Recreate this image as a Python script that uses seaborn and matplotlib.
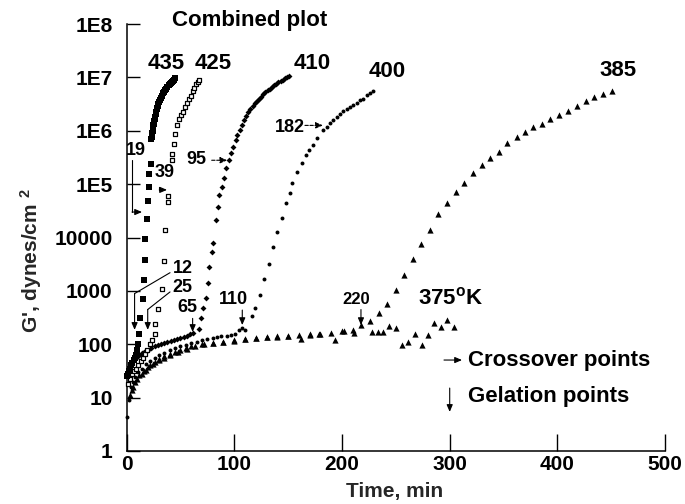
import matplotlib
matplotlib.use("Agg")
import matplotlib.pyplot as plt
import seaborn as sns
import pandas as pd
from matplotlib.ticker import NullLocator

# ---------------- data (time in min, G' in dynes/cm^2) ----------------
t435 = [0.5, 1.5, 2.5, 3.5, 4.5, 5.5, 6.5, 7.5, 8.5, 9.5, 10.5, 11.6, 12.5, 15.3, 16.2, 17.2, 17.2, 19.0, 20.0, 20.9, 20.9, 22.7,
        23.2, 23.5, 23.8, 24, 24.3, 24.5, 24.8, 25, 25.3, 25.5, 25.8, 26, 26.5, 27, 27.5, 28, 28.5, 29, 29.5, 30, 31, 32, 33, 34, 35,
        36, 37, 38, 39, 40, 41, 42, 43, 44, 45]
g435 = [25, 28, 32, 35, 40, 45, 50, 56, 63, 79, 100, 158, 316, 708, 1580, 3800, 9550, 22400, 49000, 89000, 158000, 240000,
        7.1e5, 7.8e5, 8.5e5, 9.2e5, 1.0e6, 1.08e6, 1.17e6, 1.26e6, 1.35e6, 1.45e6, 1.55e6, 1.66e6, 1.78e6, 2.04e6, 2.25e6, 2.51e6,
        2.7e6, 2.95e6, 3.16e6, 3.39e6, 3.8e6, 4.17e6, 4.57e6, 5.01e6, 5.37e6, 5.75e6, 6.17e6, 6.61e6, 7.08e6, 7.41e6, 7.76e6,
        8.13e6, 8.51e6, 8.91e6, 9.55e6]

t425 = [1, 3, 5, 7, 9, 11, 13, 15, 17, 19, 21.5, 24, 26, 26.5, 29, 33, 34.4, 35.7, 38.5, 38.5, 42.2, 42.2, 44.1, 45, 47, 49, 51,
        52.7, 54.3, 56, 58, 60, 61.5, 63, 64.5, 66, 67.3]
g425 = [18, 22, 28, 32, 35, 40, 48, 56, 66, 79, 100, 120, 155, 240, 457, 1100, 3630, 14100, 46800, 58900, 288000, 372000,
        575000, 871000, 1.26e6, 1.66e6, 1.95e6, 2.29e6, 2.75e6, 3.31e6, 3.98e6, 4.57e6, 5.5e6, 6.31e6, 7.41e6, 8.32e6, 8.91e6]

t410 = [0, 2, 4, 6, 8, 10, 12, 14, 16, 18, 20, 23, 26, 29, 32, 35, 38, 41, 44, 47, 50, 53, 56, 59, 62,
        67.3, 69.2, 71, 73.8, 75.7, 76.6, 79.4, 80.3, 82.8, 84.7, 86.2, 88.4, 90.5, 92.4, 94.9, 97, 99.2, 101.4, 102.9,
        105, 107, 109, 111, 113, 115, 117, 119, 121, 123, 125, 127, 129, 131, 133, 135, 137, 139, 141, 143, 145, 147, 149, 151]
g410 = [28, 35, 42, 48, 52, 58, 63, 68, 72, 76, 79, 85, 91, 95, 100, 105, 110, 115, 120, 126, 132, 138, 145, 155, 166,
        191, 309, 479, 724, 1410, 2820, 5370, 7940, 21400, 37200, 63100, 87100, 129000, 200000, 282000, 380000, 501000,
        661000, 832000,
        1.05e6, 1.29e6, 1.58e6, 1.91e6, 2.24e6, 2.57e6, 2.88e6, 3.24e6, 3.63e6, 3.98e6, 4.37e6, 4.79e6, 5.25e6, 5.75e6,
        6.17e6, 6.61e6, 7.08e6, 7.59e6, 8.13e6, 8.71e6, 9.12e6, 9.55e6, 1.0e7, 1.05e7]

t400 = [0, 2, 4, 6, 8, 11, 14, 18, 22, 26, 30, 35, 40, 45, 50, 55, 60, 65, 70, 75, 80, 84, 88, 93, 97, 101, 104.7, 107.5, 110,
        116.5, 119.3, 124, 127.7, 132.3, 136, 139.7, 144.4, 148.1, 151.8, 153.7, 158.3, 163, 166.7, 169.5, 173.2, 176.9,
        182.7, 185.9, 189, 192, 195.2, 198.2, 201.3, 204.5, 207.5, 210.6, 213.7, 216.8, 219.9, 223, 226.1, 229.2]
g400 = [4.4, 8.9, 16, 20, 24, 30, 35, 42, 48, 55, 62, 69, 78, 85, 91, 98, 105, 112, 120, 126, 132, 135, 141, 145, 148, 158,
        186, 200, 186,
        339, 479, 832, 1660, 3160, 6610, 12600, 22900, 43700, 67600, 105000, 166000, 245000, 347000, 437000, 537000, 724000,
        1.02e6, 1.17e6, 1.38e6, 1.58e6, 1.78e6, 2.09e6, 2.34e6, 2.51e6, 2.82e6, 3.02e6, 3.31e6, 3.72e6, 3.98e6, 4.68e6,
        5.01e6, 5.62e6]

t385 = [3, 6, 10, 14, 18, 22, 26, 30, 35, 40, 45, 50, 55, 60, 70, 80, 90, 100, 110, 120, 130, 140, 150, 160, 170, 180, 190,
        200, 210, 217.7,
        226.1, 234.4, 242.2, 250.2, 257.7, 266, 273.4, 281.8, 289.2, 297.6, 306, 313.4, 321.7, 330.1, 337.5, 345.9, 353.3,
        362.6, 370, 377.4, 385.8, 393.2, 401.6, 410, 418.4, 426.7, 434.1, 442.4, 450.8]
g385 = [11, 16, 22, 28, 33, 40, 46, 52, 59, 66, 72, 79, 85, 91, 100, 107, 112, 117, 126, 132, 135, 141, 145, 148, 158, 158,
        166, 174, 182, 234,
        275, 380, 562, 1020, 2000, 3980, 7590, 13800, 27500, 43700, 70800, 105000, 162000, 229000, 309000, 398000,
        589000, 759000, 933000, 1.17e6, 1.32e6, 1.66e6, 1.95e6, 2.34e6, 2.88e6, 3.55e6, 4.27e6, 4.9e6, 5.62e6]

t375 = [5, 8, 12, 16, 20, 25, 30, 35, 40, 48, 56, 64, 72, 80, 90, 100, 110, 120, 130, 140, 150, 162, 170, 179, 194, 202, 211,
        228, 233.6, 238.2, 243.7, 250.2, 255.8, 261.4, 267.9, 274.4, 279.9, 285.5, 292, 297.6, 304.1]
g375 = [14, 20, 26, 32, 37, 43, 50, 56, 63, 72, 83, 91, 100, 105, 112, 120, 126, 132, 135, 138, 145, 126, 151, 155, 120,
        178, 162, 170, 170, 170, 219, 200, 98, 110, 155, 98, 148, 251, 209, 282, 209]

series_labels = ["435", "425", "410", "400", "385"]
ytick_vals = [1, 10, 100, 1000, 10000, 1e5, 1e6, 1e7, 1e8]
ytick_labels = ["1", "10", "100", "1000", "10000", "1E5", "1E6", "1E7", "1E8"]
xtick_vals = [0, 100, 200, 300, 400, 500]

# ---------------- style ----------------
sns.set_theme(style="ticks")
plt.rcParams["font.family"] = ["Liberation Sans", "DejaVu Sans"]
plt.rcParams["font.weight"] = "bold"
plt.rcParams["mathtext.fontset"] = "custom"
plt.rcParams["mathtext.rm"] = "Liberation Sans:bold"
plt.rcParams["mathtext.bf"] = "Liberation Sans:bold"
plt.rcParams["mathtext.it"] = "Liberation Sans:bold"

fig = plt.figure(figsize=(6.85, 5.04), dpi=100)
ax = fig.add_axes([126.5 / 685, 53 / 504, (665 - 126.5) / 685, (451 - 24) / 504])

def df(t, g):
    return pd.DataFrame({"t": t, "g": g})

kw = dict(ax=ax, x="t", y="g", legend=False, zorder=3, clip_on=False)
sns.scatterplot(data=df(t375, g375), marker="^", s=20, color="black", linewidth=0, **kw)
sns.scatterplot(data=df(t385, g385), marker="^", s=20, color="black", linewidth=0, **kw)
sns.scatterplot(data=df(t400, g400), marker="o", s=8, color="black", linewidth=0, **kw)
sns.scatterplot(data=df(t410, g410), marker="D", s=9, color="black", linewidth=0, **kw)
sns.scatterplot(data=df(t425, g425), marker="s", s=11, facecolor="white", edgecolor="black", linewidth=0.9, **kw)
sns.scatterplot(data=df(t435, g435), marker="s", s=17, color="black", linewidth=0, **kw)

ax.set_yscale("log")
ax.set_xlim(0, 500)
ax.set_ylim(1, 1e8)
ax.set_yticks(ytick_vals)
ax.set_yticklabels(ytick_labels)
ax.yaxis.set_minor_locator(NullLocator())
ax.set_xticks(xtick_vals)
ax.set_xticklabels([str(v) for v in xtick_vals])
ax.tick_params(axis="y", direction="in", length=9, width=1.0, pad=10, labelsize=15, colors="black")
ax.tick_params(axis="x", direction="in", length=12, width=1.0, pad=3, labelsize=15, colors="black")
for lab in ax.get_xticklabels() + ax.get_yticklabels():
    lab.set_fontweight("bold")
sns.despine(ax=ax, top=True, right=True)
for sp in ("left", "bottom"):
    ax.spines[sp].set_linewidth(1.1)
    ax.spines[sp].set_color("black")

ax.set_xlabel("Time, min", fontsize=15, fontweight="bold")
ax.set_ylabel(r"G', dynes/cm $^{2}$", fontsize=15, fontweight="bold")
ax.xaxis.label.set_verticalalignment("center")
ax.yaxis.label.set_verticalalignment("center")
ax.yaxis.set_label_coords(-0.178, 0.445)
ax.xaxis.set_label_coords(0.497, -0.094)

# ---------------- text labels ----------------
tk = dict(fontweight="bold", color="black", clip_on=False)
ax.text(42.2, 1.17e8, "Combined plot", fontsize=16, ha="left", va="center", **tk)
ax.text(36.7, 1.8e7, series_labels[0], fontsize=16, ha="center", va="center", **tk)
ax.text(80.3, 1.8e7, series_labels[1], fontsize=16, ha="center", va="center", **tk)
ax.text(172.7, 1.85e7, series_labels[2], fontsize=16, ha="center", va="center", **tk)
ax.text(242.3, 1.3e7, series_labels[3], fontsize=16, ha="center", va="center", **tk)
ax.text(456, 1.36e7, series_labels[4], fontsize=16, ha="center", va="center", **tk)
ax.text(270.5, 733, r"375$^{\mathrm{o}}$K", fontsize=16, ha="left", va="center", **tk)
ax.text(317, 50.6, "Crossover points", fontsize=16, ha="left", va="center", **tk)
ax.text(317, 10.4, "Gelation points", fontsize=16, ha="left", va="center", **tk)

arr = dict(arrowstyle="-|>,head_length=0.35,head_width=0.15", color="black", lw=0.8, shrinkA=0, shrinkB=0)
ax.annotate("", xy=(311.5, 50.6), xytext=(294.8, 50.6), arrowprops=arr)
ax.annotate("", xy=(300.1, 5.4), xytext=(300.1, 15.1), arrowprops=arr)

# small numbers
sk = dict(fontsize=13, fontweight="bold", color="black", ha="center", va="center")
ax.text(8.8, 4.2e5, "19", **sk)
ax.plot([5.1, 5.1], [2.8e5, 3.0e4], color="black", lw=0.8)
ax.annotate("", xy=(14.4, 3.0e4), xytext=(5.1, 3.0e4), arrowprops=arr)

ax.text(35.3, 1.66e5, "39", **sk)
ax.plot([30.5, 30.5], [8.9e4, 7.8e4], color="black", lw=0.8)
ax.annotate("", xy=(37.6, 7.8e4), xytext=(30.5, 7.8e4), arrowprops=arr)

ax.text(65.2, 2.95e5, "95", **sk)
ax.annotate("", xy=(93.6, 2.8e5), xytext=(79.1, 2.8e5), arrowprops=dict(arr, linestyle=(0, (3, 1.5))))

ax.text(151.8, 1.15e6, "182", **sk)
ax.annotate("", xy=(182.4, 1.26e6), xytext=(165.7, 1.26e6), arrowprops=dict(arr, linestyle=(0, (3, 1.5))))

ax.text(52, 2630, "12", **sk)
ax.plot([40.4, 7.5], [2190, 890], color="black", lw=0.8)
ax.annotate("", xy=(7.5, 186), xytext=(7.5, 890), arrowprops=arr)

ax.text(52, 1175, "25", **sk)
ax.plot([40.4, 19.7], [955, 447], color="black", lw=0.8)
ax.annotate("", xy=(19.7, 186), xytext=(19.7, 447), arrowprops=arr)

ax.text(56.2, 490, "65", **sk)
ax.annotate("", xy=(61.4, 170), xytext=(61.4, 305), arrowprops=arr)

ax.text(99.4, 676, "110", **sk)
ax.annotate("", xy=(107.5, 229), xytext=(107.5, 437), arrowprops=arr)

ax.text(213, 676, "220", fontsize=12, fontweight="bold", color="black", ha="center", va="center")
ax.annotate("", xy=(217.7, 229), xytext=(217.7, 447), arrowprops=arr)

fig.savefig("out.png", dpi=100)
